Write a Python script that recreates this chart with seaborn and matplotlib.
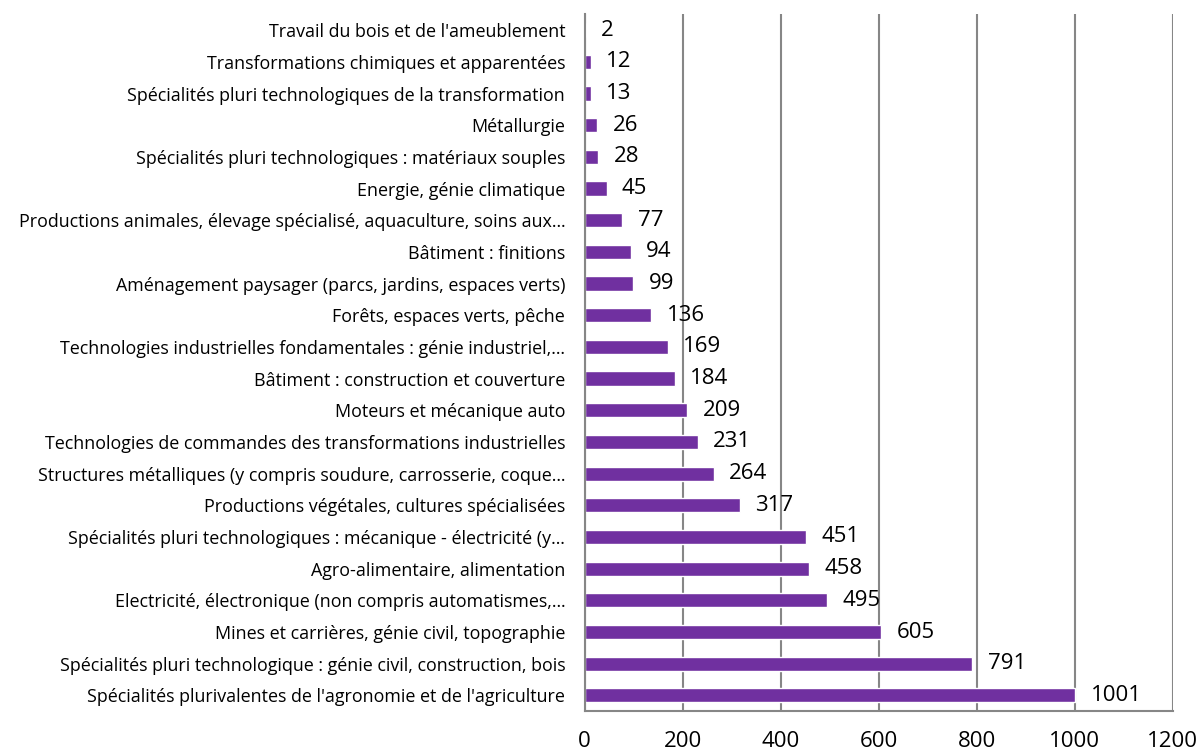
import numpy as np
import pandas as pd
import matplotlib.pyplot as plt
import seaborn as sns

categories = [
    "Travail du bois et de l'ameublement",
    "Transformations chimiques et apparentées",
    "Spécialités pluri technologiques de la transformation",
    "Métallurgie",
    "Spécialités pluri technologiques : matériaux souples",
    "Energie, génie climatique",
    "Productions animales, élevage spécialisé, aquaculture, soins aux…",
    "Bâtiment : finitions",
    "Aménagement paysager (parcs, jardins, espaces verts)",
    "Forêts, espaces verts, pêche",
    "Technologies industrielles fondamentales : génie industriel,…",
    "Bâtiment : construction et couverture",
    "Moteurs et mécanique auto",
    "Technologies de commandes des transformations industrielles",
    "Structures métalliques (y compris soudure, carrosserie, coque…",
    "Productions végétales, cultures spécialisées",
    "Spécialités pluri technologiques : mécanique - électricité (y…",
    "Agro-alimentaire, alimentation",
    "Electricité, électronique (non compris automatismes,…",
    "Mines et carrières, génie civil, topographie",
    "Spécialités pluri technologique : génie civil, construction, bois",
    "Spécialités plurivalentes de l'agronomie et de l'agriculture",
]
values = [2, 12, 13, 26, 28, 45, 77, 94, 99, 136, 169, 184, 209, 231, 264, 317, 451, 458, 495, 605, 791, 1001]
x_ticks = [0, 200, 400, 600, 800, 1000, 1200]

df = pd.DataFrame({"cat": categories, "val": values})

sns.set_style("white")
plt.rcParams['font.family'] = ['Open Sans', 'DejaVu Sans']
plt.rcParams['text.color'] = 'black'
plt.rcParams['xtick.color'] = 'black'
plt.rcParams['ytick.color'] = 'black'

fig = plt.figure(figsize=(12.03, 7.55), dpi=100)
ax = fig.add_axes([0.486, 0.058, 0.489, 0.923])

sns.barplot(data=df, x="val", y="cat", orient="h", color="#7030A0",
            saturation=1, width=0.45, ax=ax)

for c in ax.containers:
    ax.bar_label(c, labels=[str(v) for v in values], padding=11, fontsize=16, color="black")

ax.set_xlim(0, 1200)
ax.set_ylim(len(categories) - 0.5, -0.5)
ax.set_xticks(x_ticks)
ax.xaxis.grid(True, color="#868686", linewidth=1.5)
ax.set_axisbelow(True)
ax.set_xlabel("")
ax.set_ylabel("")

ax.tick_params(axis="x", labelsize=16, length=5, color="#868686", width=1.5, pad=9,
               labelcolor="black")
ax.tick_params(axis="y", which="major", labelsize=12.9, length=0, pad=14, labelcolor="black")
ax.set_yticks(np.arange(-0.5, len(categories), 1), minor=True)
ax.tick_params(axis="y", which="minor", length=5, color="#868686", width=1.5)

for s in ["top", "right"]:
    ax.spines[s].set_visible(False)
for s in ["left", "bottom"]:
    ax.spines[s].set_color("#868686")
    ax.spines[s].set_linewidth(1.5)

fig.savefig("out.png", dpi=100)
